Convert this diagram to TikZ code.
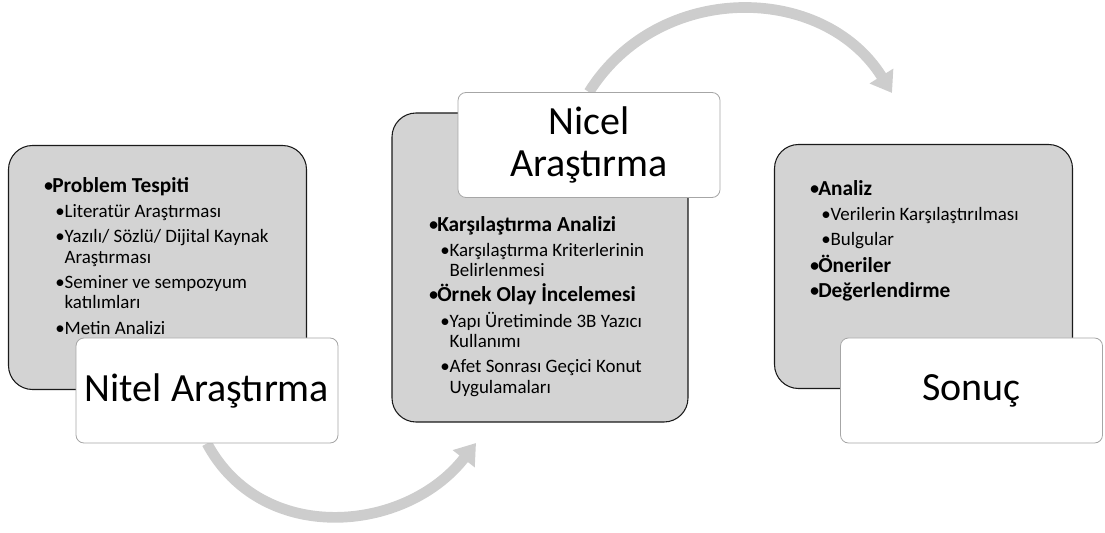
\documentclass[tikz,border=0pt]{standalone}
\usepackage{fontspec}
\setmainfont{Carlito}
\usetikzlibrary{arrows.meta, positioning, calc, backgrounds}
\definecolor{stagegray}{HTML}{D3D3D3}
\definecolor{stageborder}{HTML}{1A1A1A}
\definecolor{phaseborder}{HTML}{A6A6A6}
\definecolor{flowgray}{HTML}{CDCDCD}

% bullet lines inside the grey boxes
\newcommand{\mainbul}[1]{\makebox[6.75pt][l]{\fontsize{16}{15}\selectfont\textbullet}{\fontsize{16}{15}\selectfont\bfseries #1}}
\newcommand{\subbul}[1]{\hspace*{9pt}\makebox[7pt][l]{\textbullet}#1}
\newcommand{\subcont}[1]{\hspace*{16pt}#1}

\begin{document}
\begin{tikzpicture}[x=0.75pt, y=0.75pt,
    stage/.style={draw=stageborder, line width=0.8pt, fill=stagegray,
      rounded corners=18pt, minimum width=223.5pt, minimum height=183pt,
      inner sep=0pt},
    phasebox/.style={draw=phaseborder, line width=0.6pt, fill=white,
      rounded corners=6pt, minimum width=196.5pt, minimum height=78.75pt,
      inner sep=0pt, align=center, font=\fontsize{30}{31.5}\selectfont},
    itemlist/.style={anchor=base west, inner sep=0pt, align=left,
      font=\fontsize{14.2}{15.2}\selectfont},
    flow/.style={draw=flowgray, line width=8pt,
      -{Triangle[length=15pt, width=20pt]}}
  ]
  \useasboundingbox (0,0) rectangle (1105,532);

  % grey stages
  \node[stage] (nitelstage) at (157.5,264.5) {};
  \node[stage, minimum width=222pt, minimum height=231.75pt] (nicelstage) at (540,264.5) {};
  \node[stage] (sonucstage) at (923.5,265.5) {};

  % bullet lists (anchored on their last line)
  \node[itemlist] (nitellist) at (43,198) {\mainbul{Problem Tespiti}\\[3.75pt]
    \subbul{Literatür Araştırması}\\[3.75pt]
    \subbul{Yazılı/ Sözlü/ Dijital Kaynak}\\
    \subcont{Araştırması}\\[3.75pt]
    \subbul{Seminer ve sempozyum}\\
    \subcont{katılımları}\\[3.75pt]
    \subbul{Metin Analizi}};
  \node[itemlist] (nicellist) at (428,139) {\mainbul{Karşılaştırma Analizi}\\[3.75pt]
    \subbul{Karşılaştırma Kriterlerinin}\\
    \subcont{Belirlenmesi}\\[3.75pt]
    \mainbul{Örnek Olay İncelemesi}\\[3.75pt]
    \subbul{Yapı Üretiminde 3B Yazıcı}\\
    \subcont{Kullanımı}\\[3.75pt]
    \subbul{Afet Sonrası Geçici Konut}\\
    \subcont{Uygulamaları}};
  \node[itemlist] (sonuclist) at (809,234) {\mainbul{Analiz}\\[3.75pt]
    \subbul{Verilerin Karşılaştırılması}\\[3.75pt]
    \subbul{Bulgular}\\[3.75pt]
    \mainbul{Öneriler}\\[3.75pt]
    \mainbul{Değerlendirme}};

  % white titles
  \node[phasebox] (nitel) at (207,141.5) {Nitel Araştırma};
  \node[phasebox] (nicel) at (589,387) {Nicel\\Araştırma};
  \node[phasebox] (sonuc) at (971.5,141.5) {Sonuç};

  % curved arrows behind
  \coordinate (tip1) at (476,89);
  \coordinate (tip2) at (892,439);
  \begin{pgfonlayer}{background}
    \draw[flow] (nitel.south) to[out=-62, in=-128, looseness=1.1] (tip1);
    \draw[flow] (nicel.north) to[out=58, in=122, looseness=1.1] (tip2);
  \end{pgfonlayer}
\end{tikzpicture}
\end{document}
